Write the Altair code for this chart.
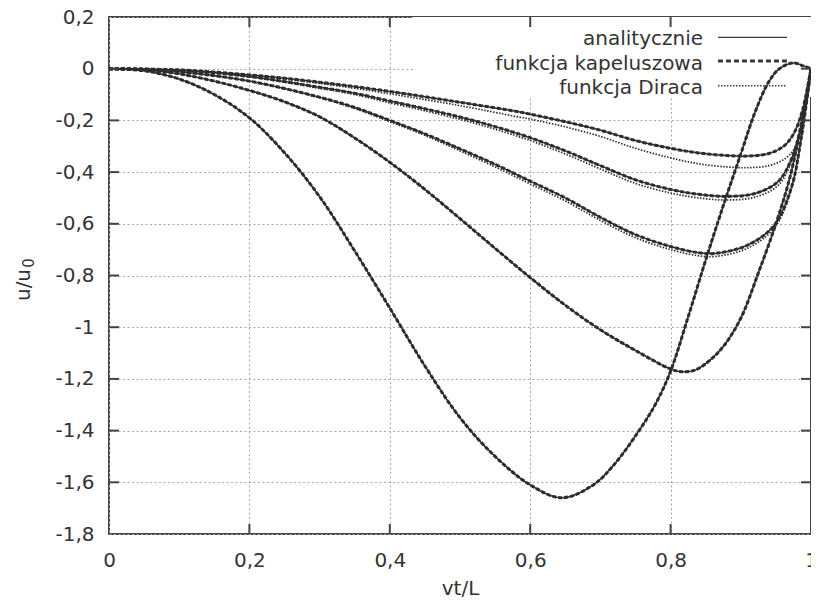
import altair as alt
import pandas as pd

# ---------------- data ----------------
# five response curves u/u0 versus vt/L
x_c1 = [0, 0.1, 0.2, 0.3, 0.4, 0.5, 0.58, 0.6, 0.65, 0.7, 0.75, 0.8, 0.84, 0.88, 0.91, 0.94, 0.962, 0.976, 0.988, 1.0]
y_c1 = [0, -0.005, -0.024, -0.052, -0.088, -0.13, -0.165, -0.176, -0.205, -0.238, -0.278, -0.308, -0.326, -0.336, -0.338, -0.328, -0.298, -0.248, -0.16, 0]
y_c1_dirac = [0, -0.005, -0.026, -0.057, -0.097, -0.143, -0.185, -0.195, -0.225, -0.262, -0.308, -0.345, -0.368, -0.38, -0.383, -0.375, -0.35, -0.31, -0.2, 0]

x_c2 = [0, 0.1, 0.2, 0.3, 0.35, 0.4, 0.45, 0.5, 0.55, 0.6, 0.65, 0.7, 0.75, 0.8, 0.84, 0.88, 0.92, 0.953, 0.972, 0.988, 1.0]
y_c2 = [0, -0.006, -0.03, -0.072, -0.095, -0.125, -0.155, -0.187, -0.224, -0.267, -0.318, -0.375, -0.43, -0.467, -0.486, -0.494, -0.483, -0.437, -0.35, -0.2, 0]
y_c2_dirac = [0, -0.006, -0.032, -0.076, -0.1, -0.132, -0.163, -0.196, -0.234, -0.278, -0.33, -0.388, -0.444, -0.481, -0.5, -0.508, -0.497, -0.452, -0.362, -0.207, 0]

x_c3 = [0, 0.1, 0.2, 0.3, 0.35, 0.4, 0.45, 0.5, 0.55, 0.6, 0.65, 0.7, 0.75, 0.8, 0.84, 0.865, 0.91, 0.948, 0.972, 0.986, 1.0]
y_c3 = [0, -0.012, -0.048, -0.11, -0.15, -0.2, -0.252, -0.31, -0.37, -0.435, -0.5, -0.575, -0.642, -0.688, -0.712, -0.714, -0.682, -0.605, -0.46, -0.27, 0]
y_c3_dirac = [0, -0.012, -0.049, -0.113, -0.154, -0.205, -0.258, -0.318, -0.38, -0.446, -0.512, -0.587, -0.654, -0.7, -0.724, -0.726, -0.694, -0.615, -0.468, -0.275, 0]

x_c4 = [0, 0.05, 0.1, 0.15, 0.2, 0.25, 0.3, 0.35, 0.4, 0.45, 0.5, 0.55, 0.6, 0.65, 0.7, 0.75, 0.8, 0.815, 0.835, 0.855, 0.875, 0.9, 0.925, 0.95, 0.97, 0.985, 1.0]
y_c4 = [0, -0.004, -0.02, -0.048, -0.084, -0.128, -0.186, -0.268, -0.362, -0.467, -0.58, -0.695, -0.808, -0.915, -1.01, -1.09, -1.162, -1.172, -1.166, -1.13, -1.075, -0.965, -0.79, -0.6, -0.42, -0.23, 0]

x_c5 = [0, 0.05, 0.1, 0.15, 0.2, 0.25, 0.3, 0.35, 0.4, 0.45, 0.5, 0.55, 0.6, 0.645, 0.69, 0.72, 0.76, 0.78, 0.8, 0.825, 0.85, 0.875, 0.9, 0.92, 0.94, 0.955, 0.975, 0.99, 1.0]
y_c5 = [0, -0.008, -0.04, -0.1, -0.19, -0.325, -0.495, -0.705, -0.926, -1.15, -1.35, -1.5, -1.61, -1.66, -1.61, -1.53, -1.38, -1.29, -1.17, -0.96, -0.74, -0.53, -0.33, -0.17, -0.05, 0.0, 0.022, 0.01, 0]

x_ticks = [0, 0.2, 0.4, 0.6, 0.8, 1.0]
y_ticks = [0.2, 0, -0.2, -0.4, -0.6, -0.8, -1, -1.2, -1.4, -1.6, -1.8]
x_inner_ticks = [0.2, 0.4, 0.6, 0.8]
y_inner_ticks = [0, -0.2, -0.4, -0.6, -0.8, -1, -1.2, -1.4, -1.6]

legend_labels = ["analitycznie", "funkcja kapeluszowa", "funkcja Diraca"]
y_title_main, y_title_sub = "u/u", "0"

# ---------------- table ----------------
rows = []
def add(xs, ys, curve, kind):
    for a, b in zip(xs, ys):
        rows.append({"x": a, "y": b, "curve": curve, "kind": kind})

for kind in ["an", "hat"]:
    add(x_c1, y_c1, "c1", kind)
    add(x_c2, y_c2, "c2", kind)
    add(x_c3, y_c3, "c3", kind)
    add(x_c4, y_c4, "c4", kind)
    add(x_c5, y_c5, "c5", kind)
add(x_c1, y_c1_dirac, "c1", "dirac")
add(x_c2, y_c2_dirac, "c2", "dirac")
add(x_c3, y_c3_dirac, "c3", "dirac")
add(x_c4, y_c4, "c4", "dirac")
add(x_c5, y_c5, "c5", "dirac")
df = pd.DataFrame(rows)

W, H = 702, 517
FONT = "DejaVu Sans"
FS = 20
TXT = "#333333"
INK = "#2e2e2e"
FRAME = "#444444"
GRID = "#a8a8a8"

xscale = alt.Scale(domain=[0, 1], nice=False, zero=False)
yscale = alt.Scale(domain=[-1.8, 0.2], nice=False, zero=False)

label_expr = "replace(toString(datum.value), '.', ',')"

x_axis = alt.Axis(values=x_ticks, labelExpr=label_expr, grid=True, gridDash=[2, 2.5],
                  gridColor=GRID, gridWidth=1, domain=False, ticks=False,
                  labelPadding=16, labelFont=FONT, labelFontSize=FS, labelColor=TXT,
                  labelFlush=False, labelOverlap=False,
                  title="vt/L", titleFont=FONT, titleFontSize=FS, titleFontWeight="normal",
                  titleColor=TXT, titleX=W / 2, titleY=54, titleBaseline="middle", titleAlign="center")
y_axis = alt.Axis(values=y_ticks, labelExpr=label_expr, grid=True, gridDash=[2, 2.5],
                  gridColor=GRID, gridWidth=1, domain=False, ticks=False,
                  labelPadding=15, labelFont=FONT, labelFontSize=FS, labelColor=TXT,
                  labelFlush=False, labelOverlap=False, title=None)

X = lambda f: alt.X(f, scale=xscale, axis=x_axis)
Y = lambda f: alt.Y(f, scale=yscale, axis=y_axis)

one = pd.DataFrame({"a": [0]})

# white key box (hides the grid behind the key, as in the original)
key_box = alt.Chart(one).mark_rect(color="white").encode(
    x=alt.value(304), x2=alt.value(W), y=alt.value(0), y2=alt.value(80))

base = alt.Chart(df)
INTERP = "catmull-rom"
hat = base.transform_filter("datum.kind == 'hat'").mark_line(
    interpolate=INTERP, color=INK, strokeWidth=3, strokeDash=[4, 2]).encode(
    x=X("x:Q"), y=Y("y:Q"), detail="curve:N", order="x:Q")
an = base.transform_filter("datum.kind == 'an'").mark_line(
    interpolate=INTERP, color=INK, strokeWidth=1.5).encode(
    x=X("x:Q"), y=Y("y:Q"), detail="curve:N", order="x:Q")
dirac = base.transform_filter("datum.kind == 'dirac'").mark_line(
    interpolate=INTERP, color=INK, strokeWidth=1.7, strokeDash=[1.5, 1.5]).encode(
    x=X("x:Q"), y=Y("y:Q"), detail="curve:N", order="x:Q")

# inward tick marks on all four sides
xt = pd.DataFrame({"x": x_inner_ticks})
yt = pd.DataFrame({"y": y_inner_ticks})
tick_kw = dict(color=FRAME, strokeWidth=2)
tb = alt.Chart(xt).mark_rule(**tick_kw).encode(x=X("x:Q"), y=alt.value(H), y2=alt.value(H - 10))
tt = alt.Chart(xt).mark_rule(**tick_kw).encode(x=X("x:Q"), y=alt.value(0), y2=alt.value(10))
tl = alt.Chart(yt).mark_rule(**tick_kw).encode(y=Y("y:Q"), x=alt.value(0), x2=alt.value(10))
tr = alt.Chart(yt).mark_rule(**tick_kw).encode(y=Y("y:Q"), x=alt.value(W), x2=alt.value(W - 10))

# y-axis title with a subscript, rotated
yt_main = alt.Chart(one).mark_text(angle=270, align="center", baseline="alphabetic",
                                   font=FONT, fontSize=FS, color=TXT).encode(
    x=alt.value(-79), y=alt.value(268), text=alt.value(y_title_main))
yt_sub = alt.Chart(one).mark_text(angle=270, align="center", baseline="alphabetic",
                                  font=FONT, fontSize=15, color=TXT).encode(
    x=alt.value(-75), y=alt.value(246), text=alt.value(y_title_sub))

# key
def key_text(label, ty):
    return alt.Chart(one).mark_text(align="right", baseline="alphabetic", font=FONT,
                                    fontSize=FS, color=TXT).encode(
        x=alt.value(594), y=alt.value(ty), text=alt.value(label))

def key_line(ty, **kw):
    return alt.Chart(one).mark_rule(color="#3a3a3a", **kw).encode(
        x=alt.value(609), x2=alt.value(678), y=alt.value(ty))

keys = [
    key_text(legend_labels[0], 28), key_line(20.3, strokeWidth=1.2),
    key_text(legend_labels[1], 53), key_line(44, strokeWidth=3, strokeDash=[5, 3]),
    key_text(legend_labels[2], 77.3), key_line(68.7, strokeWidth=1.5, strokeDash=[1.5, 1.5]),
]

chart = alt.layer(key_box, hat, an, dirac, tb, tt, tl, tr, yt_main, yt_sub, *keys).properties(
    width=W, height=H,
    autosize=alt.AutoSizeParams(type="none"),
    padding={"left": 101, "top": 9, "right": 0, "bottom": 65},
).configure_view(stroke=FRAME, strokeWidth=2)

chart.save("out.html", embed_options={"renderer": "svg", "actions": False})
